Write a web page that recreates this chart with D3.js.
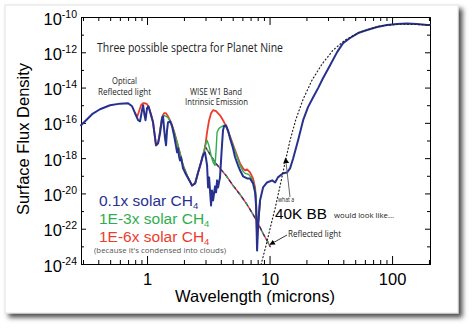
<!DOCTYPE html>
<html><head><meta charset="utf-8">
<script src="https://cdn.jsdelivr.net/npm/d3@7"></script>
<style>html,body{margin:0;padding:0;background:#fff;} svg{display:block}</style>
</head><body><svg id="c" width="474" height="329"></svg>
<script>
// ---- data: [wavelength (microns), log10 surface flux density] ----
const blueSpectrum = [
 [0.289,-16.14],[0.318,-15.85],[0.356,-15.51],[0.413,-15.23],[0.499,-15.0],[0.602,-14.91],[0.700,-14.89],
 [0.755,-15.06],[0.798,-15.45],[0.845,-15.85],[0.877,-15.91],[0.910,-15.28],[0.928,-15.0],[0.954,-15.57],
 [0.972,-15.85],[1.0,-15.17],[1.028,-15.06],[1.078,-15.57],[1.119,-15.97],[1.184,-17.27],[1.230,-17.16],
 [1.277,-16.59],[1.326,-15.74],[1.351,-15.63],[1.377,-16.31],[1.403,-16.88],[1.429,-17.27],[1.456,-16.42],
 [1.483,-15.97],[1.541,-15.91],[1.600,-16.19],[1.661,-16.70],[1.725,-17.33],[1.758,-17.67],[1.791,-17.44],
 [1.825,-17.90],[1.859,-18.13],[1.894,-17.95],[1.967,-18.58],[2.04,-18.81],[2.12,-19.03],[2.24,-19.32],
 [2.33,-19.55],[2.47,-19.43],[2.61,-18.81],[2.76,-18.24],[2.86,-17.84],[2.97,-17.67],[3.03,-18.01],
 [3.09,-18.41],[3.15,-19.66],[3.21,-19.09],[3.33,-20.68],[3.39,-19.83],[3.46,-20.40],[3.59,-19.60],
 [3.66,-19.94],[3.73,-19.26],[3.80,-19.66],[3.94,-19.09],[4.10,-17.16],[4.17,-16.42],[4.25,-16.19],
 [4.41,-16.14],[4.58,-16.42],[4.76,-16.88],[5.03,-17.44],[5.23,-17.95],[5.53,-18.41],[5.74,-18.69],
 [6.08,-19.03],[6.31,-19.09],[6.55,-19.15],[6.93,-19.15],[7.33,-19.43],[7.62,-19.94],[7.76,-20.68],
 [7.91,-23.24],[8.06,-21.82],[8.36,-20.40],[8.85,-19.66],[9.54,-19.38],[10.5,-19.26],[11.1,-19.38],
 [11.7,-19.09],[12.9,-18.86],[13.9,-18.81],[14.7,-18.58],[15.6,-18.01],[17.1,-16.99],[18.8,-15.85],
 [20.6,-15.11],[22.7,-14.55],[24.9,-14.03],[27.3,-13.47],[31.2,-12.73],[35.6,-11.99],[39.8,-11.48],
 [45.4,-11.19],[52.8,-10.91],[62.5,-10.74],[75.5,-10.57],[91.0,-10.45],[110,-10.40],[132,-10.37],
 [160,-10.40],[193,-10.45],[204,-10.45]
];
const redSpectrum = [
 [0.798,-15.45],[0.829,-15.68],[0.861,-15.34],[0.893,-15.0],[0.928,-14.89],[0.963,-14.89],[1.0,-14.94],
 [1.038,-15.17],[1.078,-15.51],[1.119,-15.97],[1.184,-17.27],[1.230,-17.16],[1.277,-16.42],[1.326,-15.68],
 [1.377,-15.45],[1.429,-15.45],[1.483,-15.63],[1.570,-15.97],[1.661,-16.48],[1.758,-17.10],[1.859,-17.73],
 [1.967,-18.41],[2.12,-18.98],[2.24,-19.32],[2.33,-19.55],[2.47,-19.43],[2.61,-18.81],[2.76,-18.24],
 [2.86,-17.84],[2.97,-17.44],[3.09,-16.53],[3.21,-15.85],[3.33,-15.45],[3.46,-15.28],[3.66,-15.34],
 [3.94,-15.57],[4.17,-15.85],[4.41,-16.19],[4.76,-16.76],[5.23,-17.56],[5.74,-18.30],[6.08,-18.58],
 [6.31,-18.69],[6.55,-18.64],[6.93,-18.81],[7.33,-19.15],[7.62,-19.66],[7.76,-20.40],[7.91,-22.67],
 [8.06,-21.82],[8.36,-20.40]
];
const greenSpectrum = [
 [1.277,-16.42],[1.326,-15.74],[1.377,-15.57],[1.429,-15.63],[1.483,-15.70],[1.570,-16.0],[1.661,-16.50],
 [1.758,-17.10],[1.859,-17.73],[1.967,-18.41],[2.12,-18.98],[2.24,-19.32],[2.33,-19.55],[2.47,-19.43],
 [2.61,-18.81],[2.76,-18.24],[2.86,-17.84],[2.97,-17.33],[3.09,-16.99],[3.21,-17.33],[3.33,-17.84],
 [3.46,-18.24],[3.59,-18.41],[3.66,-17.56],[3.73,-16.53],[3.87,-16.31],[4.10,-16.19],[4.25,-16.14],
 [4.41,-16.19],[4.76,-16.82],[5.23,-17.61],[5.74,-18.41],[6.08,-18.75],[6.31,-18.86],[6.74,-18.92],
 [7.06,-19.09],[7.47,-19.49],[7.76,-20.17],[7.91,-22.39],[8.06,-21.82],[8.36,-20.40]
];
const reflectedTail = [
 [2.97,-17.33],[3.27,-17.78],[3.59,-18.24],[3.94,-18.58],[4.41,-18.98],[5.03,-19.55],[5.74,-20.06],
 [6.55,-20.63],[7.33,-21.19],[8.06,-21.70],[8.85,-22.27],[9.54,-22.67],[10.1,-23.01]
];
const blackbody40K = [
 [8.52,-24.03],[9.36,-22.95],[10.1,-21.99],[11.1,-20.85],[12.2,-19.55],[13.4,-18.24],[14.7,-16.99],
 [16.4,-15.80],[18.8,-14.66],[22.2,-13.58],[26.8,-12.67],[33.0,-11.88],[41.3,-11.31],[54.8,-10.85],
 [79.8,-10.51],[116,-10.40],[204,-10.45]
];
const xMajorTicks = [1, 10, 100];
const xMinorTicks = [0.3,0.4,0.5,0.6,0.7,0.8,0.9,2,3,4,5,6,7,8,9,20,30,40,50,60,70,80,90,200];
const yLabelExponents = [-10,-12,-14,-16,-18,-20,-22,-24];
const yOddExponents = [-11,-13,-15,-17,-19,-21,-23];
const legendItems = [
 {label:"0.1x solar CH", color:"#27318f"},
 {label:"1E-3x solar CH", color:"#2fae4f"},
 {label:"1E-6x solar CH", color:"#ef3b2c"}
];

const svg = d3.select("#c");
const L=81, R=430, T=17, B=264;
const x = d3.scaleLog().domain([0.289, 204]).range([L, R]);
const y = d3.scaleLog().domain([1e-24, 1e-10]).range([B, T]);
const line = d3.line().x(d => x(d[0])).y(d => y(Math.pow(10, d[1])));

// card with shadow
const defs = svg.append("defs");
const f = defs.append("filter").attr("id","sh").attr("x","-5%").attr("y","-5%").attr("width","115%").attr("height","115%");
f.append("feDropShadow").attr("dx",4).attr("dy",4).attr("stdDeviation",2.5).attr("flood-color","#000").attr("flood-opacity",0.7);
svg.append("rect").attr("x",5).attr("y",5).attr("width",453).attr("height",308)
  .attr("fill","#fff").attr("stroke","#e2e2e2").attr("filter","url(#sh)");

// axes
const axG = svg.append("g").attr("font-family","Liberation Sans, Arial, sans-serif");
const styleAxis = g => { g.selectAll("path,line").attr("stroke","#000").attr("stroke-width",1); };
axG.append("g").attr("transform",`translate(0,${B})`)
  .call(d3.axisBottom(x).tickValues(xMajorTicks).tickSize(-8).tickSizeOuter(0).tickPadding(9).tickFormat(d3.format("d")))
  .call(styleAxis)
  .call(g => g.selectAll("text").attr("font-size",16.5).attr("fill","#000").attr("font-family","Liberation Sans, Arial, sans-serif"));
axG.append("g").attr("transform",`translate(0,${B})`)
  .call(d3.axisBottom(x).tickValues(xMinorTicks).tickSize(-4).tickSizeOuter(0).tickFormat(""))
  .call(styleAxis);
axG.append("g").attr("transform",`translate(0,${T})`)
  .call(d3.axisTop(x).tickValues(xMajorTicks).tickSize(-8).tickSizeOuter(0).tickFormat(""))
  .call(styleAxis);
axG.append("g").attr("transform",`translate(0,${T})`)
  .call(d3.axisTop(x).tickValues(xMinorTicks).tickSize(-4).tickSizeOuter(0).tickFormat(""))
  .call(styleAxis);
const yEven = yLabelExponents.map(e => Math.pow(10,e));
const yOdd = yOddExponents.map(e => Math.pow(10,e));
axG.append("g").attr("transform",`translate(${L},0)`)
  .call(d3.axisLeft(y).tickValues(yEven).tickSize(-5).tickSizeOuter(0).tickFormat(""))
  .call(styleAxis);
axG.append("g").attr("transform",`translate(${L},0)`)
  .call(d3.axisLeft(y).tickValues(yOdd).tickSize(-3).tickSizeOuter(0).tickFormat(""))
  .call(styleAxis);
axG.append("g").attr("transform",`translate(${R},0)`)
  .call(d3.axisRight(y).tickValues(yEven).tickSize(-5).tickSizeOuter(0).tickFormat(""))
  .call(styleAxis);
axG.append("g").attr("transform",`translate(${R},0)`)
  .call(d3.axisRight(y).tickValues(yOdd).tickSize(-3).tickSizeOuter(0).tickFormat(""))
  .call(styleAxis);

// y tick labels with superscripts
const yl = axG.append("g");
yLabelExponents.forEach(e => {
  const t = yl.append("text").attr("x",77).attr("y",y(Math.pow(10,e))+7.5)
    .attr("text-anchor","end").attr("font-size",16.5).attr("fill","#000");
  t.append("tspan").text("10");
  t.append("tspan").attr("font-size",10.5).attr("dy",-7).text(String(e));
});

// axis titles
svg.append("text").attr("transform","translate(29,139) rotate(-90)").attr("text-anchor","middle")
  .attr("font-family","Liberation Sans, Arial, sans-serif").attr("font-size",16.5).attr("fill","#000")
  .text("Surface Flux Density");
svg.append("text").attr("x",255).attr("y",302).attr("text-anchor","middle")
  .attr("font-family","Liberation Sans, Arial, sans-serif").attr("font-size",16.5).attr("fill","#000")
  .text("Wavelength (microns)");

// curves
const curves = svg.append("g").attr("fill","none").attr("stroke-linejoin","round").attr("stroke-linecap","round");
curves.append("path").datum(reflectedTail).attr("d",line).attr("stroke","#ef3b2c").attr("stroke-width",1.4);
curves.append("path").datum(reflectedTail).attr("d",line).attr("stroke","#27318f").attr("stroke-width",1.4).attr("stroke-dasharray","3,4");
curves.append("path").datum(reflectedTail).attr("d",line).attr("stroke","#2fae4f").attr("stroke-width",1.4).attr("stroke-dasharray","2,9").attr("stroke-dashoffset",-4);
curves.append("path").datum(redSpectrum).attr("d",line).attr("stroke","#ef3b2c").attr("stroke-width",1.8);
curves.append("path").datum(greenSpectrum).attr("d",line).attr("stroke","#2fae4f").attr("stroke-width",1.4);
curves.append("path").datum(blueSpectrum).attr("d",line).attr("stroke","#27318f").attr("stroke-width",2);
curves.append("path").datum(blackbody40K).attr("d",line).attr("stroke","#222").attr("stroke-width",1.2).attr("stroke-dasharray","1,2.6");

// annotations
const ann = svg.append("g").attr("font-family","Open Sans, Lato, sans-serif").attr("fill","#222");
const txt = (s,xx,yy,fs,len,anchor) => {
  const t = ann.append("text").attr("x",xx).attr("y",yy).attr("font-size",fs).attr("text-anchor",anchor||"start").text(s);
  if (len) t.attr("textLength",len).attr("lengthAdjust","spacingAndGlyphs");
  return t;
};
txt("Three possible spectra for Planet Nine",97,52,12.5,186);
txt("Optical",124.5,84,8.5,25,"middle");
txt("Reflected light",124.5,95,8.5,53,"middle");
txt("WISE W1 Band",216,95,8.5,52,"middle");
txt("Intrinsic Emission",216.5,104.5,8.5,63,"middle");
txt("what a",278,202,8,16);
txt("would look like...",334,218,7.2,60);
txt("Reflected light",288,237,8.5,53);
txt("(because it's condensed into clouds)",94,252.5,7,132).attr("fill","#555");
svg.append("text").attr("x",275).attr("y",219).attr("font-family","Liberation Sans, Arial, sans-serif")
  .attr("font-size",15.3).attr("fill","#000").attr("textLength",52).attr("lengthAdjust","spacingAndGlyphs").text("40K BB");

// legend
legendItems.forEach((d,i) => {
  const t = svg.append("text").attr("x",99).attr("y",205.5 + i*18).attr("font-family","Liberation Sans, Arial, sans-serif")
    .attr("font-size",15.5).attr("fill",d.color);
  t.append("tspan").text(d.label);
  t.append("tspan").attr("font-size",9.5).attr("dy",3).text("4");
});

// arrows
defs.append("marker").attr("id","ah").attr("viewBox","0 0 10 10").attr("refX",9).attr("refY",5)
  .attr("markerWidth",6).attr("markerHeight",6).attr("orient","auto")
  .append("path").attr("d","M0,0 L10,5 L0,10 z").attr("fill","#000");
svg.append("line").attr("x1",290).attr("y1",197).attr("x2",285.5).attr("y2",158)
  .attr("stroke","#666").attr("stroke-width",1).attr("marker-end","url(#ah)");
svg.append("line").attr("x1",287).attr("y1",235).attr("x2",270).attr("y2",244.5)
  .attr("stroke","#222").attr("stroke-width",0.9).attr("marker-end","url(#ah)");
</script></body></html>
